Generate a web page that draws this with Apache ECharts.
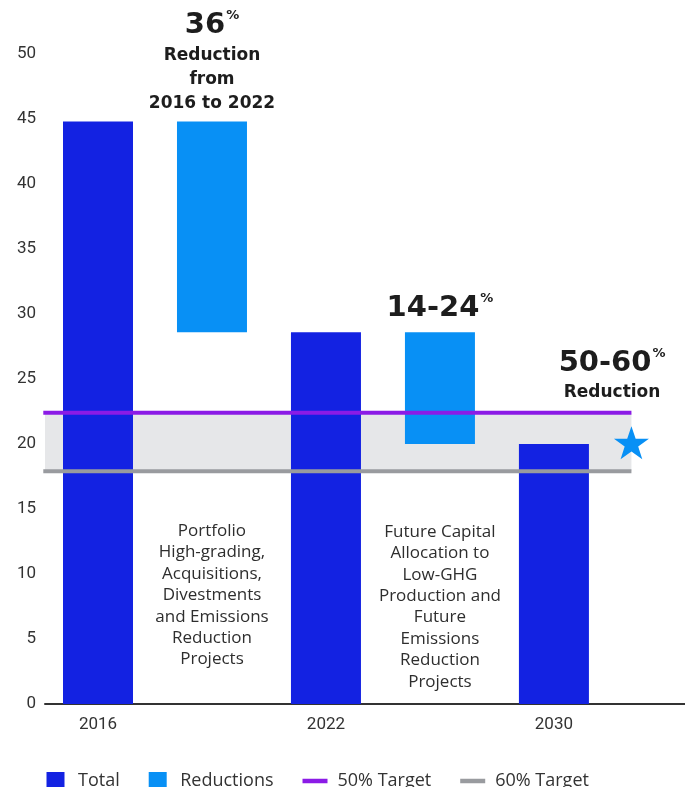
<!DOCTYPE html>
<html>
<head>
<meta charset="utf-8">
<script src="https://cdn.jsdelivr.net/npm/echarts@6/dist/echarts.min.js"></script>
<style>html,body{margin:0;padding:0;background:#fff}#c{width:685px;height:787px}</style>
</head>
<body>
<div id="c"></div>
<script>
// ---- data ----
const categories = ['2016', '', '2022', '', '2030'];
const tickCategories = [0, 2, 4];
const totalIndex = [0, 2, 4];
const totalValues = [44.8, 28.6, 20.0];
const reductionIndex = [1, 3];
const reductionFrom = [44.8, 28.6];
const reductionTo = [28.6, 20.0];
const target50 = 22.4;
const target60 = 17.9;
const yTicks = [0, 5, 10, 15, 20, 25, 30, 35, 40, 45, 50];
const starValue = 20.1;

const blue = '#1322E2', light = '#0890F5', purple = '#8B1BE6', gray = '#999B9F';
const fontR = 'Roboto, "Liberation Sans", sans-serif';
const fontN = '"Open Sans", Roboto, sans-serif';
const fontB = '"DejaVu Sans", "Noto Sans", sans-serif';

const chart = echarts.init(document.getElementById('c'), null, {renderer: 'canvas'});
const xL = -0.48, xR = 4.68;
const BAR_W = 70;

const rich = {
  big: {fontFamily: fontB, fontWeight: 'bold', fontSize: 29, lineHeight: 35, color: '#1d1d1d'},
  sup: {fontFamily: fontB, fontWeight: 'bold', fontSize: 13, lineHeight: 35, color: '#1d1d1d', verticalAlign: 'top', padding: [1, 0, 0, 1]},
  b: {fontFamily: fontB, fontWeight: 'bold', fontSize: 17, lineHeight: 24, color: '#1d1d1d'},
  r: {fontFamily: fontN, fontSize: 17, lineHeight: 21.4, color: '#2e2e2e'}
};

const notes = [
  {value: [1, 49.4], text: '{big|36}{sup|%}\n{b|Reduction}\n{b|from}\n{b|2016 to 2022}'},
  {value: [3, 30.4], text: '{big|14-24}{sup|%}'},
  {value: [4.51, 25.27], text: '{big|50-60}{sup|%}\n{b|Reduction}'},
  {value: [1, 8.35], text: ['Portfolio', 'High-grading,', 'Acquisitions,', 'Divestments', 'and Emissions', 'Reduction', 'Projects'].map(s => '{r|' + s + '}').join('\n')},
  {value: [3, 7.48], text: ['Future Capital', 'Allocation to', 'Low-GHG', 'Production and', 'Future', 'Emissions', 'Reduction', 'Projects'].map(s => '{r|' + s + '}').join('\n')}
];

chart.setOption({
  animation: false,
  grid: {left: 45, right: 0, top: 54, bottom: 83},
  xAxis: {
    type: 'value', min: -0.465, max: 5.15,
    splitLine: {show: false},
    axisTick: {show: false},
    axisLine: {show: true, lineStyle: {color: '#333', width: 2}},
    axisLabel: {
      customValues: tickCategories,
      formatter: v => categories[Math.round(v)] || '',
      fontFamily: fontR, fontSize: 17, color: '#333', margin: 12
    }
  },
  yAxis: {
    type: 'value', min: 0, max: 50, interval: 5,
    splitLine: {show: false},
    axisLine: {show: false}, axisTick: {show: false},
    axisLabel: {fontFamily: fontR, fontSize: 17, color: '#333', margin: 9,
      formatter: v => yTicks.includes(v) ? String(v) : ''}
  },
  legend: {
    left: 41.5, top: 767, itemWidth: 25, itemHeight: 18, itemGap: 29,
    textStyle: {fontFamily: fontN, fontSize: 18, color: '#333', padding: [0, 0, 0, 5]},
    data: [
      {name: 'Total', icon: 'path://M0,0H18V18H0Z'},
      {name: 'Reductions', icon: 'path://M0,0H18V18H0Z'},
      {name: '50% Target', icon: 'path://M0,0H25V4.5H0Z'},
      {name: '60% Target', icon: 'path://M0,0H25V4.5H0Z'}
    ]
  },
  series: [
    {
      name: 'band', type: 'line', data: [], z: 0, silent: true,
      markArea: {silent: true, itemStyle: {color: '#E6E7E9'},
        data: [[{coord: [xL, target50]}, {coord: [xR, target60]}]]}
    },
    {
      name: 'Total', type: 'bar', barWidth: BAR_W, barGap: '-100%', z: 2,
      itemStyle: {color: blue},
      data: totalIndex.map((x, i) => [x, totalValues[i]])
    },
    {
      name: 'Reductions', type: 'custom', z: 2,
      itemStyle: {color: light},
      encode: {x: 0, y: [1, 2]},
      data: reductionIndex.map((x, i) => [x, reductionFrom[i], reductionTo[i]]),
      renderItem: (params, api) => {
        const top = api.coord([api.value(0), api.value(1)]);
        const bot = api.coord([api.value(0), api.value(2)]);
        return {
          type: 'rect',
          shape: {x: top[0] - BAR_W / 2, y: top[1], width: BAR_W, height: bot[1] - top[1]},
          style: {fill: light}
        };
      }
    },
    {
      name: '50% Target', type: 'line', symbol: 'none', z: 3,
      lineStyle: {color: purple, width: 4}, itemStyle: {color: purple},
      data: [[xL, target50], [xR, target50]]
    },
    {
      name: '60% Target', type: 'line', symbol: 'none', z: 3,
      lineStyle: {color: gray, width: 4}, itemStyle: {color: gray},
      data: [[xL, target60], [xR, target60]]
    },
    {
      name: 'star', type: 'scatter', z: 4, silent: true,
      symbol: 'path://M50,0 L61.8,35.1 L98.9,35.1 L68.9,56.7 L80.3,91.9 L50,70.2 L19.7,91.9 L31.1,56.7 L1.1,35.1 L38.2,35.1 Z',
      symbolSize: [35, 33], itemStyle: {color: light, opacity: 1},
      data: [[xR, starValue]]
    },
    {
      name: 'notes', type: 'scatter', symbolSize: 0, z: 5, silent: true,
      itemStyle: {opacity: 1},
      data: notes.map(n => ({value: n.value, label: {show: true, position: 'inside', opacity: 1, formatter: n.text, rich: rich}}))
    }
  ]
});
</script>
</body>
</html>
